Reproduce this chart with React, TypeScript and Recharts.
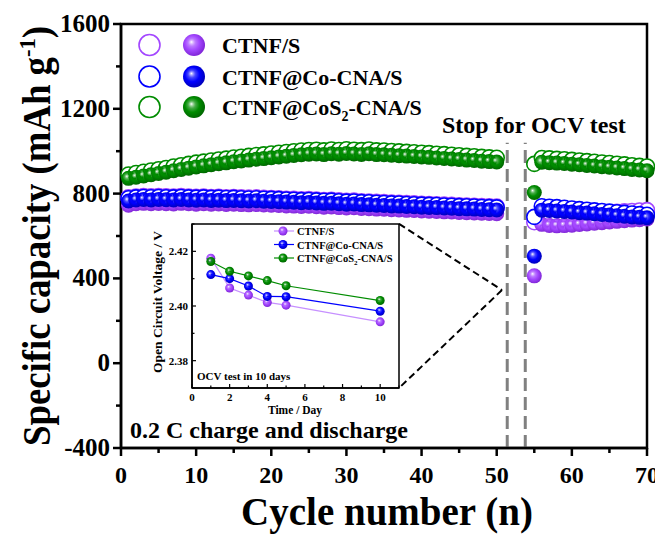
import React from 'react';
import {
  ScatterChart,
  Scatter,
  XAxis,
  YAxis,
  ReferenceLine,
  ReferenceArea,
  Customized,
  LineChart,
  Line,
} from 'recharts';

const SERIF = "'Liberation Serif','Times New Roman',serif";

// ---------- main data ----------
const cycles = [
  1, 2, 3, 4, 5, 6, 7, 8, 9, 10, 11, 12, 13, 14, 15, 16, 17, 18, 19, 20, 21, 22, 23, 24, 25,
  26, 27, 28, 29, 30, 31, 32, 33, 34, 35, 36, 37, 38, 39, 40, 41, 42, 43, 44, 45, 46, 47, 48, 49, 50,
  55, 56, 57, 58, 59, 60, 61, 62, 63, 64, 65, 66, 67, 68, 69, 70,
];

const ctnfCharge = [
  782, 786, 788, 787, 788, 787, 786, 788, 786, 785, 786, 784, 785, 783, 784, 782, 781, 782, 780, 779, 778, 776, 775, 773, 774,
  772, 770, 771, 768, 766, 767, 764, 763, 761, 760, 758, 757, 755, 754, 752, 751, 750, 748, 747, 745, 744, 743, 741, 740, 739,
  665, 700, 700, 701, 702, 703, 705, 706, 708, 710, 712, 714, 716, 718, 720, 722,
];
const ctnfDischarge = [
  745, 752, 754, 752, 753, 752, 751, 754, 752, 750, 752, 750, 751, 749, 750, 748, 747, 748, 746, 745, 744, 742, 741, 739, 740,
  738, 736, 737, 734, 732, 733, 730, 729, 727, 726, 724, 723, 721, 720, 718, 717, 716, 714, 713, 711, 710, 709, 707, 706, 705,
  412, 655, 650, 648, 649, 651, 654, 657, 660, 663, 666, 669, 672, 675, 677, 680,
];
const coCharge = [
  778, 782, 784, 783, 784, 783, 782, 784, 782, 781, 782, 780, 781, 779, 780, 778, 777, 778, 776, 775, 774, 772, 771, 769, 770,
  768, 766, 767, 764, 762, 763, 760, 759, 757, 756, 754, 753, 751, 750, 748, 747, 746, 744, 743, 741, 740, 739, 737, 736, 735,
  690, 740, 738, 736, 733, 730, 727, 724, 721, 718, 715, 712, 709, 706, 703, 700,
];
const coDischarge = [
  765, 770, 772, 770, 772, 771, 770, 772, 770, 769, 770, 768, 769, 767, 768, 766, 765, 766, 764, 763, 762, 760, 759, 757, 758,
  756, 754, 755, 752, 750, 751, 748, 747, 745, 744, 742, 741, 739, 738, 736, 735, 734, 732, 731, 729, 728, 727, 725, 724, 723,
  505, 722, 720, 718, 716, 713, 710, 708, 705, 702, 699, 696, 693, 690, 688, 686,
];
const cos2Charge = [
  890, 897, 903, 909, 915, 921, 928, 934, 940, 946, 951, 956, 961, 965, 970, 974, 978, 982, 985, 989, 993, 996, 1000, 1003, 1006,
  1007, 1004, 1008, 1006, 1009, 1007, 1005, 1008, 1004, 1003, 1001, 999, 997, 995, 993, 991, 988, 986, 983, 981, 978, 976, 973, 971, 969,
  940, 968, 966, 964, 962, 959, 956, 953, 950, 947, 944, 941, 938, 934, 931, 928,
];
const cos2Discharge = [
  872, 877, 883, 889, 895, 901, 908, 914, 920, 926, 931, 936, 941, 945, 950, 954, 958, 962, 965, 969, 973, 976, 980, 983, 986,
  987, 984, 988, 986, 989, 987, 985, 988, 984, 983, 981, 979, 977, 975, 973, 971, 968, 966, 963, 961, 958, 956, 953, 951, 949,
  805, 948, 946, 944, 942, 939, 936, 933, 930, 927, 924, 921, 918, 914, 911, 908,
];

const xTicks = [0, 5, 10, 15, 20, 25, 30, 35, 40, 45, 50, 55, 60, 65, 70];
const yTicks = [-400, -200, 0, 200, 400, 600, 800, 1000, 1200, 1400, 1600];
const seriesNames = ['CTNF/S', 'CTNF@Co-CNA/S', 'CTNF@CoS2-CNA/S'];

// ---------- inset data ----------
const days = [1, 2, 3, 4, 5, 10];
const ocvCtnf = [2.4175, 2.4066, 2.404, 2.4013, 2.4003, 2.3942];
const ocvCo = [2.4115, 2.41, 2.4073, 2.4035, 2.4034, 2.3981];
const ocvCos2 = [2.4163, 2.4127, 2.411, 2.4093, 2.4074, 2.402];
const insetXTicks = [0, 1, 2, 3, 4, 5, 6, 7, 8, 9, 10, 11];
const insetYTicks = [2.37, 2.38, 2.39, 2.4, 2.41, 2.42, 2.43];

const PURPLE = '#A347FF';
const BLUE = '#0000FF';
const GREEN = '#008C00';
const PURPLE_LINE = '#C690FF';

const toPts = (arr: number[]) => cycles.map((c, i) => ({ x: c, y: arr[i] }));
const insetData = days.map((d, i) => ({ day: d, ctnf: ocvCtnf[i], co: ocvCo[i], cos2: ocvCos2[i] }));

const Gradients = () => (
  <svg width={0} height={0} style={{ position: 'absolute' }}>
    <defs>
      {[
        ['gp', PURPLE, '#7a20d0'],
        ['gb', BLUE, '#0000b0'],
        ['gg', GREEN, '#006000'],
      ].map(([id, c, d]) => (
        <radialGradient key={id} id={id} cx="0.45" cy="0.45" r="0.6" fx="0.38" fy="0.36">
          <stop offset="0" stopColor="#ffffff" />
          <stop offset="0.3" stopColor={c} stopOpacity={0.75} />
          <stop offset="0.55" stopColor={c} />
          <stop offset="1" stopColor={d} />
        </radialGradient>
      ))}
    </defs>
  </svg>
);

const openShape = (color: string) => (p: any) => (
  <circle cx={p.cx} cy={p.cy} r={7.5} fill="#fff" stroke={color} strokeWidth={1.6} />
);
const ballShape = (grad: string) => (p: any) => (
  <circle cx={p.cx} cy={p.cy} r={7.5} fill={`url(#${grad})`} />
);

const YTick = (props: any) => {
  const { x, y, payload } = props;
  const v = payload.value;
  const major = v % 400 === 0;
  return (
    <g>
      <line x1={x} x2={x - (major ? 8 : 5)} y1={y} y2={y} stroke="#000" strokeWidth={2.5} />
      {major && (
        <text x={x - 11} y={y} dy={8} textAnchor="end" fontFamily={SERIF} fontWeight={700} fontSize={25} fill="#000">
          {v}
        </text>
      )}
    </g>
  );
};

const XTick = (props: any) => {
  const { x, y, payload } = props;
  const v = payload.value;
  const major = v % 10 === 0;
  return (
    <g>
      <line x1={x} x2={x} y1={y} y2={y + (major ? 8 : 5)} stroke="#000" strokeWidth={2.5} />
      {major && (
        <text x={x} y={y + 35} textAnchor="middle" fontFamily={SERIF} fontWeight={700} fontSize={24} fill="#000">
          {v}
        </text>
      )}
    </g>
  );
};

const MainAnnotations = () => {
  const rows = [
    { c: PURPLE, g: 'gp', name: seriesNames[0], y: 37 },
    { c: BLUE, g: 'gb', name: seriesNames[1], y: 68.5 },
    { c: GREEN, g: 'gg', name: seriesNames[2], y: 99 },
  ];
  const t = { fontFamily: SERIF, fontWeight: 700, fill: '#000' } as any;
  return (
    <g>
      {rows.map((r, i) => (
        <g key={i}>
          <circle cx={141.5} cy={r.y} r={10.5} fill="#fff" stroke={r.c} strokeWidth={1.6} />
          <circle cx={186} cy={r.y} r={11} fill={`url(#${r.g})`} />
          <text x={214} y={r.y + 8} fontSize={22} {...t}>
            {i === 2 ? (
              <>
                CTNF@CoS<tspan fontSize={14} dy={6}>2</tspan>
                <tspan dy={-6}>-CNA/S</tspan>
              </>
            ) : (
              r.name
            )}
          </text>
        </g>
      ))}
      <text x={434} y={125} fontSize={24} {...t}>Stop for OCV test</text>
      <text x={122} y={430} fontSize={24} {...t}>0.2 C charge and discharge</text>
      <text x={379} y={517} fontSize={39} textAnchor="middle" {...t}>Cycle number (n)</text>
      <text
        x={42}
        y={228}
        fontSize={39}
        textAnchor="middle"
        transform="rotate(-90 42 228)"
        textLength={420}
        lengthAdjust="spacingAndGlyphs"
        {...t}
      >
        Specific capacity (mAh g<tspan fontSize={24} dy={-15}>-1</tspan>
        <tspan dy={15}>)</tspan>
      </text>
    </g>
  );
};

const InsetYTick = (props: any) => {
  const { x, y, payload } = props;
  const v = payload.value;
  const major = Math.round(v * 100) % 2 === 0;
  return (
    <g>
      <line x1={x} x2={x + (major ? 4 : 2.5)} y1={y} y2={y} stroke="#000" strokeWidth={1.2} />
      {major && (
        <text x={x - 4} y={y} dy={4} textAnchor="end" fontFamily={SERIF} fontWeight={700} fontSize={11} fill="#000">
          {v.toFixed(2)}
        </text>
      )}
    </g>
  );
};

const InsetXTick = (props: any) => {
  const { x, y, payload } = props;
  const v = payload.value;
  const major = v % 2 === 0;
  return (
    <g>
      <line x1={x} x2={x} y1={y} y2={y - (major ? 4 : 2.5)} stroke="#000" strokeWidth={1.2} />
      {major && (
        <text x={x} y={y + 13} textAnchor="middle" fontFamily={SERIF} fontWeight={700} fontSize={11} fill="#000">
          {v}
        </text>
      )}
    </g>
  );
};

const insetDot = (grad: string) => (p: any) => (
  <circle key={`${grad}-${p.index}`} cx={p.cx} cy={p.cy} r={4.5} fill={`url(#${grad})`} />
);

const InsetAnnotations = () => {
  const rows = [
    { c: PURPLE_LINE, g: 'gp', y: 16 },
    { c: BLUE, g: 'gb', y: 29.5 },
    { c: GREEN, g: 'gg', y: 43 },
  ];
  const t = { fontFamily: SERIF, fontWeight: 700, fill: '#000' } as any;
  return (
    <g>
      {rows.map((r, i) => (
        <g key={i}>
          <line x1={134} x2={154} y1={r.y} y2={r.y} stroke={r.c} strokeWidth={1.2} />
          <circle cx={143} cy={r.y} r={4.5} fill={`url(#${r.g})`} />
          <text x={157} y={r.y + 4} fontSize={10.5} {...t}>
            {i === 2 ? (
              <>
                CTNF@CoS<tspan fontSize={7} dy={3}>2</tspan>
                <tspan dy={-3}>-CNA/S</tspan>
              </>
            ) : (
              seriesNames[i]
            )}
          </text>
        </g>
      ))}
      <text x={57} y={165} fontSize={11} {...t}>OCV test in 10 days</text>
      <text x={155} y={199} fontSize={11.5} textAnchor="middle" {...t}>Time / Day</text>
      <text x={22} y={87} fontSize={13.5} textAnchor="middle" transform="rotate(-90 22 87)" {...t}>
        Open Circuit Voltage / V
      </text>
    </g>
  );
};

export default function App() {
  return (
    <div style={{ position: 'relative', width: 655, height: 526 }}>
      <Gradients />
      <ScatterChart width={655} height={526} margin={{ top: 16, right: 16, bottom: 6, left: 0 }}>
        <XAxis
          type="number"
          dataKey="x"
          domain={[0, 70]}
          ticks={xTicks}
          interval={0}
          tick={<XTick />}
          tickSize={0}
          tickMargin={0}
          tickLine={false}
          axisLine={{ stroke: '#000', strokeWidth: 2.5 }}
          height={80}
        />
        <YAxis
          type="number"
          dataKey="y"
          domain={[-400, 1600]}
          ticks={yTicks}
          interval={0}
          tick={<YTick />}
          tickSize={0}
          tickMargin={0}
          tickLine={false}
          axisLine={{ stroke: '#000', strokeWidth: 2.5 }}
          width={113}
        />
        <ReferenceArea x1={0} x2={70} y1={-400} y2={1600} fill="none" stroke="#000" strokeWidth={2.5} fillOpacity={0} />
        <ReferenceLine segment={[{ x: 51.4, y: -400 }, { x: 51.4, y: 1040 }]} stroke="#808080" strokeWidth={3} strokeDasharray="13 6" />
        <ReferenceLine segment={[{ x: 53.8, y: -400 }, { x: 53.8, y: 1040 }]} stroke="#808080" strokeWidth={3} strokeDasharray="13 6" />
        <ReferenceLine segment={[{ x: 37.0, y: 657 }, { x: 50.7, y: 345 }]} stroke="#000" strokeWidth={2} strokeDasharray="7 4" />
        <ReferenceLine segment={[{ x: 50.7, y: 345 }, { x: 37.0, y: -117 }]} stroke="#000" strokeWidth={2} strokeDasharray="7 4" />
        <Scatter data={toPts(ctnfCharge)} shape={openShape(PURPLE)} isAnimationActive={false} />
        <Scatter data={toPts(ctnfDischarge)} shape={ballShape('gp')} isAnimationActive={false} />
        <Scatter data={toPts(coCharge)} shape={openShape(BLUE)} isAnimationActive={false} />
        <Scatter data={toPts(coDischarge)} shape={ballShape('gb')} isAnimationActive={false} />
        <Scatter data={toPts(cos2Charge)} shape={openShape(GREEN)} isAnimationActive={false} />
        <Scatter data={toPts(cos2Discharge)} shape={ballShape('gg')} isAnimationActive={false} />
        <Customized component={MainAnnotations} />
      </ScatterChart>
      <div style={{ position: 'absolute', left: 132, top: 207 }}>
        <LineChart width={270} height={205} data={insetData} margin={{ top: 9, right: 11, bottom: 2, left: 0 }}>
          <XAxis
            type="number"
            dataKey="day"
            domain={[0, 11]}
            ticks={insetXTicks}
            interval={0}
            tick={<InsetXTick />}
            tickSize={0}
            tickMargin={0}
            tickLine={false}
            axisLine={{ stroke: '#000', strokeWidth: 1.5 }}
            height={30}
          />
          <YAxis
            type="number"
            domain={[2.37, 2.43]}
            ticks={insetYTicks}
            interval={0}
            tick={<InsetYTick />}
            tickSize={0}
            tickMargin={0}
            tickLine={false}
            axisLine={{ stroke: '#000', strokeWidth: 1.5 }}
            width={52}
          />
          <ReferenceArea x1={0} x2={11} y1={2.37} y2={2.43} fill="none" fillOpacity={0} stroke="#000" strokeWidth={1.5} />
          <Line dataKey="ctnf" stroke={PURPLE_LINE} strokeWidth={1.2} dot={insetDot('gp')} isAnimationActive={false} />
          <Line dataKey="co" stroke={BLUE} strokeWidth={1.2} dot={insetDot('gb')} isAnimationActive={false} />
          <Line dataKey="cos2" stroke={GREEN} strokeWidth={1.2} dot={insetDot('gg')} isAnimationActive={false} />
          <Customized component={InsetAnnotations} />
        </LineChart>
      </div>
    </div>
  );
}
